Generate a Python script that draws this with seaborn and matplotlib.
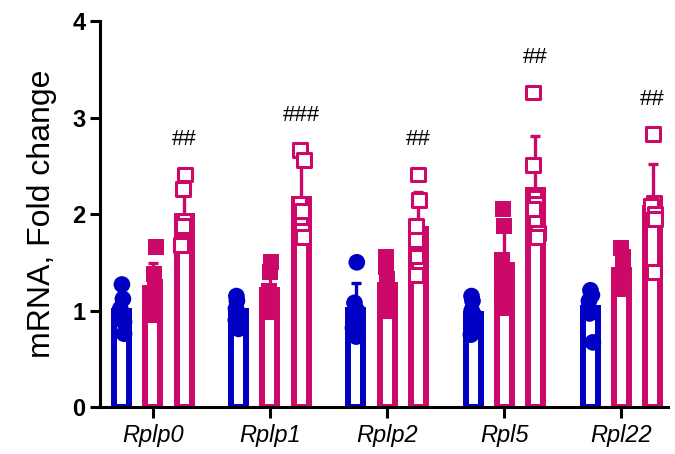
import numpy as np
import pandas as pd
import matplotlib
matplotlib.use("Agg")
import matplotlib.pyplot as plt
import seaborn as sns

# Ribosomal protein transcripts, fold change relative to control
genes = ["Rplp0", "Rplp1", "Rplp2", "Rpl5", "Rpl22"]
groups = ["Control", "Treated", "Treated + stimulus"]

control = [
    [1.27, 1.12, 1.02, 0.95, 0.88, 0.76],
    [1.15, 1.10, 1.02, 0.97, 0.90, 0.81],
    [1.50, 1.08, 1.00, 0.93, 0.82, 0.73],
    [1.15, 1.10, 1.00, 0.95, 0.85, 0.75],
    [1.21, 1.16, 1.10, 1.02, 0.97, 0.67],
]
treated = [
    [1.66, 1.38, 1.24, 1.13, 1.03, 0.95],
    [1.50, 1.40, 1.20, 1.12, 1.05, 0.98],
    [1.55, 1.45, 1.33, 1.18, 1.08, 1.00],
    [2.05, 1.88, 1.52, 1.40, 1.28, 1.17, 1.03],
    [1.65, 1.55, 1.45, 1.36, 1.28, 1.22],
]
stimulated = [
    [2.41, 2.26, 1.93, 1.88, 1.70, 1.68],
    [2.66, 2.56, 2.10, 2.03, 1.83, 1.76],
    [2.41, 2.15, 1.88, 1.73, 1.56, 1.37],
    [3.26, 2.51, 2.10, 2.05, 1.80, 1.76],
    [2.83, 2.12, 2.08, 2.00, 1.95, 1.40],
]
significance = ["##", "###", "##", "##", "##"]

BLUE = "#0000C4"
PINK = "#CC0868"

rows = []
for group, series in zip(groups, [control, treated, stimulated]):
    for gene, vals in zip(genes, series):
        for v in vals:
            rows.append({"gene": gene, "group": group, "value": v})
df = pd.DataFrame(rows)

plt.rcParams["font.family"] = ["Liberation Sans", "DejaVu Sans"]

fig = plt.figure(figsize=(6.75, 4.54), dpi=100)
ax = fig.add_axes([0.148, 0.1035, 0.842, 0.850])

edge_palette = {groups[0]: BLUE, groups[1]: PINK, groups[2]: PINK}

# Hollow bars at the group means
sns.barplot(data=df, x="gene", y="value", hue="group", order=genes,
            hue_order=groups, palette=edge_palette, fill=False,
            errorbar=None, width=0.8, gap=0.52, linewidth=4.3,
            legend=False, ax=ax)

# Upward-only SD error bars, placed on the bar centres
stats = df.groupby(["gene", "group"])["value"].agg(["mean", "std"])
centres = {}
for p in ax.patches:
    xc = p.get_x() + p.get_width() / 2
    gi = int(round(xc))
    centres.setdefault(gi, []).append(xc)
for gi, xs in centres.items():
    for hi, xc in enumerate(sorted(xs)):
        m, sd = stats.loc[(genes[gi], groups[hi])]
        ax.errorbar([xc], [m], yerr=[[0], [sd]], fmt="none",
                    ecolor=edge_palette[groups[hi]], elinewidth=2.4,
                    capsize=3.6, capthick=2.4, zorder=2)

# Individual replicates, spread slightly sideways
np.random.seed(3)
strip_common = dict(x="gene", y="value", hue="group", order=genes,
                    hue_order=groups, dodge=True, jitter=0.08,
                    legend=False, ax=ax, zorder=3)
sns.stripplot(data=df[df.group == groups[0]], palette=edge_palette,
              marker="o", size=12, linewidth=0, **strip_common)
sns.stripplot(data=df[df.group == groups[1]], palette=edge_palette,
              marker="s", size=11.5, linewidth=0, **strip_common)
sns.stripplot(data=df[df.group == groups[2]],
              palette={groups[0]: BLUE, groups[1]: PINK, groups[2]: "white"},
              marker="s", size=10, linewidth=2.2, edgecolor=PINK,
              **strip_common)

# Significance marks above the stimulated bars
for gi, gene in enumerate(genes):
    top = max(stimulated[gi])
    xs = sorted(centres[gi])
    ax.text(xs[2], top + 0.36, significance[gi], ha="center", va="center",
            fontsize=16, color="black")

ax.set_ylim(0, 4)
ax.set_xlim(-0.452, 4.40)
ax.set_yticks([0, 1, 2, 3, 4])
ax.set_xlabel("")
ax.set_ylabel("mRNA, Fold change", fontsize=23, labelpad=11)

for lab in ax.get_yticklabels():
    lab.set_fontweight("bold")
    lab.set_fontsize(17)
for lab in ax.get_xticklabels():
    lab.set_fontstyle("italic")
    lab.set_fontsize(17)

for side in ["top", "right"]:
    ax.spines[side].set_visible(False)
for side in ["left", "bottom"]:
    ax.spines[side].set_linewidth(2.2)
ax.tick_params(axis="y", width=2.2, length=7.5, pad=3)
ax.tick_params(axis="x", width=2.2, length=8, pad=4)

fig.savefig("out.png", dpi=100)
